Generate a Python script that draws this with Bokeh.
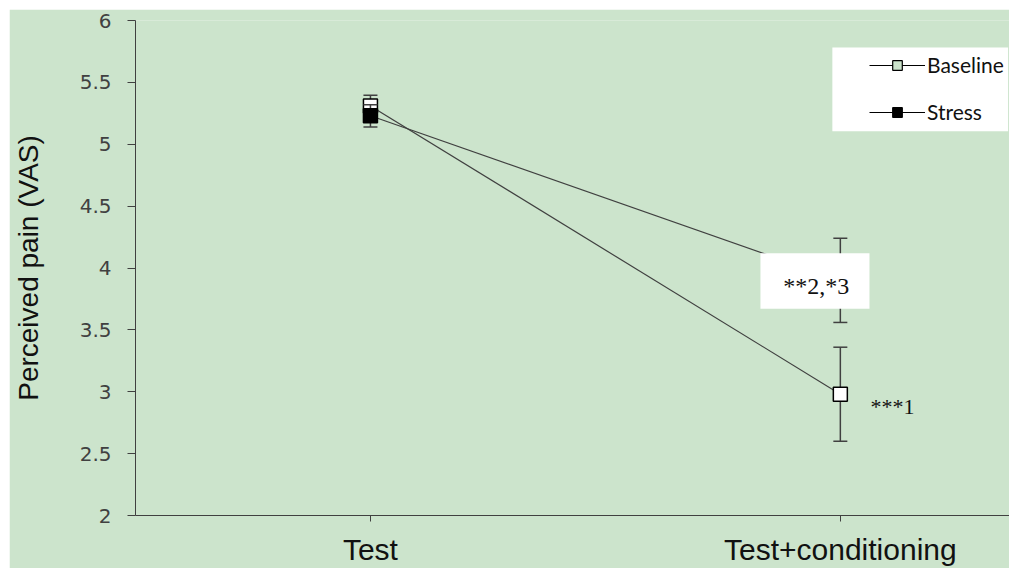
from bokeh.plotting import figure
from bokeh.models import (Range1d, FixedTicker, ColumnDataSource, Legend, LegendItem,
                          BoxAnnotation, Label)
from bokeh.embed import file_html
from bokeh.resources import INLINE

# ---- data ----
categories = ["Test", "Test+conditioning"]
cat_pos = [0.5, 1.5]
baseline_mean = [5.31, 2.98]
baseline_err = [0.085, 0.38]
stress_mean = [5.23, 3.90]
stress_err = [0.09, 0.34]
y_ticks = [2, 2.5, 3, 3.5, 4, 4.5, 5, 5.5, 6]
annot_box_text = "**2,*3"
annot_point_text = "***1"

BG = "#cce4cc"
DARK = "#404040"

p = figure(width=1000, height=559, output_backend="svg", toolbar_location=None,
           x_range=Range1d(0, 1.86), y_range=Range1d(2, 6))
p.margin = (9, 0, 0, 9)
p.min_border_left = 124
p.min_border_top = 11
p.min_border_bottom = 52
p.min_border_right = 0
p.background_fill_color = BG
p.border_fill_color = BG
p.outline_line_color = None
p.grid.visible = False

# axes
p.xaxis.ticker = FixedTicker(ticks=cat_pos)
p.xaxis.major_label_overrides = {pos: c for pos, c in zip(cat_pos, categories)}
p.xaxis.major_label_text_font = "Liberation Sans"
p.xaxis.major_label_text_font_size = "30px"
p.xaxis.major_label_text_color = "#111111"
p.xaxis.major_tick_out = 6
p.xaxis.major_tick_in = 0
p.xaxis.minor_tick_line_color = None
p.xaxis.major_label_standoff = 11
p.xaxis.axis_line_color = DARK
p.xaxis.major_tick_line_color = DARK

p.yaxis.ticker = FixedTicker(ticks=y_ticks)
p.yaxis.major_label_overrides = {t: ("%g" % t) for t in y_ticks}
p.yaxis.major_label_text_font = "DejaVu Sans"
p.yaxis.major_label_text_font_size = "20px"
p.yaxis.major_label_text_color = DARK
p.yaxis.major_tick_out = 8
p.yaxis.major_tick_in = 0
p.yaxis.minor_tick_line_color = None
p.yaxis.major_label_standoff = 16
p.yaxis.axis_line_color = DARK
p.yaxis.major_tick_line_color = DARK
p.yaxis.axis_label = "Perceived pain (VAS)"
p.yaxis.axis_label_text_font = "Liberation Sans"
p.yaxis.axis_label_text_font_style = "normal"
p.yaxis.axis_label_text_font_size = "28px"
p.yaxis.axis_label_text_color = "#111111"
p.yaxis.axis_label_standoff = 33

# sources
bsrc = ColumnDataSource(dict(x=cat_pos, y=baseline_mean,
                             lo=[m - e for m, e in zip(baseline_mean, baseline_err)],
                             hi=[m + e for m, e in zip(baseline_mean, baseline_err)]))
ssrc = ColumnDataSource(dict(x=cat_pos, y=stress_mean,
                             lo=[m - e for m, e in zip(stress_mean, stress_err)],
                             hi=[m + e for m, e in zip(stress_mean, stress_err)]))

for src, fill in ((bsrc, "white"), (ssrc, "black")):
    p.line("x", "y", source=src, line_color=DARK, line_width=1.2)
    p.segment(x0="x", y0="lo", x1="x", y1="hi", source=src, line_color=DARK, line_width=1.5)
    p.scatter("x", "lo", source=src, marker="dash", size=14, line_color=DARK, line_width=1.5)
    p.scatter("x", "hi", source=src, marker="dash", size=14, line_color=DARK, line_width=1.5)
    p.scatter("x", "y", source=src, marker="square", size=14, fill_color=fill,
              line_color="black", line_width=1.5)

# white annotation box with significance text
p.add_layout(BoxAnnotation(left=1.330, right=1.562, bottom=3.67, top=4.12,
                           fill_color="white", fill_alpha=1, line_color=None))
p.add_layout(Label(x=1.449, y=3.855, text=annot_box_text, text_font="Liberation Serif",
                   text_font_size="24px", text_align="center", text_baseline="alphabetic",
                   text_color="#111111"))
p.add_layout(Label(x=1.564, y=2.879, text=annot_point_text, text_font="Liberation Serif",
                   text_font_size="22px", text_align="left", text_baseline="alphabetic",
                   text_color="#111111"))

# legend background
p.add_layout(BoxAnnotation(left=1.483, right=1.857, bottom=5.105, top=5.782,
                           fill_color="white", fill_alpha=1, line_color=None))

# legend-only renderers (a single point outside the visible range)
off = dict(x=[-10], y=[-10])
lb = p.line("x", "y", source=ColumnDataSource(off), line_color="black", line_width=1.2)
mb = p.scatter("x", "y", source=ColumnDataSource(off), marker="square",
               fill_color=BG, line_color="black", line_width=1.2)
ls = p.line("x", "y", source=ColumnDataSource(off), line_color="black", line_width=1.2)
ms = p.scatter("x", "y", source=ColumnDataSource(off), marker="square",
               fill_color="black", line_color="black", line_width=1.2)

legend = Legend(items=[LegendItem(label="Baseline", renderers=[lb, mb]),
                       LegendItem(label="Stress", renderers=[ls, ms])],
                location=(734, 391), orientation="vertical",
                background_fill_alpha=0, border_line_color=None,
                padding=7, spacing=22, glyph_width=56, glyph_height=24,
                label_height=24, label_standoff=2,
                label_text_font="Lato", label_text_font_size="21px",
                label_text_color="#111111", margin=0)
p.add_layout(legend)

open("out.html", "w").write(file_html(p, INLINE))
